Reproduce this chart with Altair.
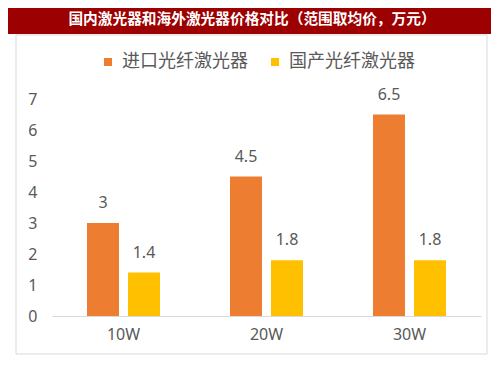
import altair as alt
import pandas as pd

categories = ["10W", "20W", "30W"]
series_names = ["进口光纤激光器", "国产光纤激光器"]
imported = [3, 4.5, 6.5]
domestic = [1.4, 1.8, 1.8]
y_ticks = [0, 1, 2, 3, 4, 5, 6, 7]
title_text = "国内激光器和海外激光器价格对比（范围取均价，万元）"

rows = []
for i, c in enumerate(categories):
    rows.append({"cat": c, "series": series_names[0], "value": imported[i]})
    rows.append({"cat": c, "series": series_names[1], "value": domestic[i]})
df = pd.DataFrame(rows)

GRAY = "#595959"
FONT = "Noto Sans"
CJK = "Noto Sans CJK SC"

x_enc = alt.X("cat:N", sort=categories, title=None,
              scale=alt.Scale(paddingInner=0.4895, paddingOuter=0.2448),
              axis=alt.Axis(labelAngle=0, ticks=False, domainColor="#D9D9D9",
                            labelFontSize=16, labelColor=GRAY, labelFont=FONT,
                            labelPadding=10, zindex=1))
xoff = alt.XOffset("series:N", sort=series_names,
                   scale=alt.Scale(paddingInner=0.22, paddingOuter=0))
y_enc = alt.Y("value:Q", title=None,
              scale=alt.Scale(domain=[0, 7], nice=False),
              axis=alt.Axis(values=y_ticks, tickCount=8, domain=False, ticks=False,
                            grid=False, labelFontSize=16, labelColor=GRAY,
                            labelFont=FONT, labelPadding=15, format="d", zindex=1,
                            labelOverlap=False, labelFlush=False))

one = alt.Data(values=[{}])

banner = alt.Chart(one).mark_rect(color="#9C0000").encode(
    x=alt.value(-44), x2=alt.value(441), y=alt.value(-91), y2=alt.value(-65))
banner_text = alt.Chart(one).mark_text(
    text=title_text, color="white", font=CJK, fontWeight="bold", fontSize=14.7,
    align="center", baseline="middle").encode(x=alt.value(200), y=alt.value(-79))
border = alt.Chart(one).mark_rect(fill="white", fillOpacity=0, stroke="#D9D9D9",
                                  strokeWidth=1).encode(
    x=alt.value(-36), x2=alt.value(435), y=alt.value(-64), y2=alt.value(255))

bars = alt.Chart(df).mark_bar().encode(
    x=x_enc, xOffset=xoff, y=y_enc,
    color=alt.Color("series:N", sort=series_names,
                    scale=alt.Scale(domain=series_names, range=["#ED7D31", "#FFC000"]),
                    legend=alt.Legend(title=None, orient="none", direction="horizontal",
                                      legendX=47, legendY=-46, symbolType="square",
                                      symbolSize=64, symbolStrokeWidth=0,
                                      labelFontSize=18, labelColor=GRAY, labelFont=CJK,
                                      columnPadding=18, labelOffset=5)))
labels = alt.Chart(df).mark_text(fontSize=16, color=GRAY, font=FONT, dy=-20,
                                 baseline="middle").encode(
    x=x_enc, xOffset=xoff, y=y_enc, text=alt.Text("value:Q"))

chart = alt.layer(border, banner, banner_text, bars, labels, data=df).properties(
    width=429, height=217,
    autosize=alt.AutoSizeParams(type="none"),
    padding={"left": 44, "top": 91, "right": 10, "bottom": 50},
).configure_view(stroke=None)

chart.save("out.html", embed_options={"renderer": "svg", "actions": False})
